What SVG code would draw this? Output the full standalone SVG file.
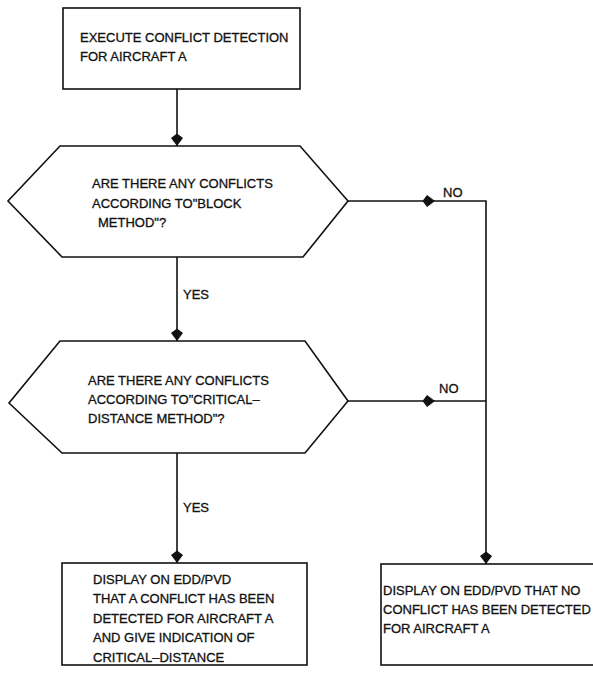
<svg xmlns="http://www.w3.org/2000/svg" width="593" height="675" viewBox="0 0 593 675">
<style>
.shape{fill:#fff;stroke:#111;stroke-width:1.6}
.conn{fill:none;stroke:#111;stroke-width:1.6}
text{font-family:"Liberation Sans",Arial,sans-serif;font-size:13px;fill:#111;stroke:#111;stroke-width:0.3}
</style>
<defs>
<marker id="ah" markerUnits="userSpaceOnUse" markerWidth="14" markerHeight="13" refX="13" refY="6.5" orient="auto">
<path d="M13,6.5 L5,0.5 L0.5,6.5 L5,12.5 z" fill="#111"/>
</marker>
</defs>
<rect width="593" height="675" fill="#fff"/>
<g id="connectors">
<line class="conn" x1="177" y1="89" x2="177" y2="146" marker-end="url(#ah)"/>
<line class="conn" x1="177" y1="257" x2="177" y2="341" marker-end="url(#ah)"/>
<line class="conn" x1="177" y1="453" x2="177" y2="563" marker-end="url(#ah)"/>
<line class="conn" x1="348" y1="201" x2="435" y2="201" marker-end="url(#ah)"/>
<polyline class="conn" points="435,201 486,201 486,564" marker-end="url(#ah)"/>
<line class="conn" x1="348" y1="401" x2="435" y2="401" marker-end="url(#ah)"/>
<line class="conn" x1="435" y1="401" x2="486" y2="401"/>
<text x="183" y="299">YES</text>
<text x="183" y="512">YES</text>
<text x="443" y="197">NO</text>
<text x="439" y="393">NO</text>
</g>
<g id="start">
<rect class="shape" x="63" y="8" width="237" height="81"/>
<text x="80" y="42">EXECUTE CONFLICT DETECTION</text>
<text x="80" y="61">FOR AIRCRAFT A</text>
</g>
<g id="decision1">
<polygon class="shape" points="60,146 300,146 348,201 303,257 62,257 8,201"/>
<text x="92" y="188">ARE THERE ANY CONFLICTS</text>
<text x="92" y="208">ACCORDING TO"BLOCK</text>
<text x="98" y="227">METHOD"?</text>
</g>
<g id="decision2">
<polygon class="shape" points="60,341 305,341 348,401 305,453 62,453 9,403"/>
<text x="88" y="385">ARE THERE ANY CONFLICTS</text>
<text x="88" y="404">ACCORDING TO"CRITICAL–</text>
<text x="88" y="423">DISTANCE METHOD"?</text>
</g>
<g id="conflict">
<rect class="shape" x="62" y="563" width="245" height="102"/>
<text x="93" y="584">DISPLAY ON EDD/PVD</text>
<text x="93" y="603">THAT A CONFLICT HAS BEEN</text>
<text x="93" y="623">DETECTED FOR AIRCRAFT A</text>
<text x="93" y="642">AND GIVE INDICATION OF</text>
<text x="93" y="662">CRITICAL–DISTANCE</text>
</g>
<g id="noconflict">
<rect class="shape" x="381" y="564" width="230" height="101"/>
<text x="383" y="595">DISPLAY ON EDD/PVD THAT NO</text>
<text x="383" y="614">CONFLICT HAS BEEN DETECTED</text>
<text x="383" y="633">FOR AIRCRAFT A</text>
</g>
</svg>
